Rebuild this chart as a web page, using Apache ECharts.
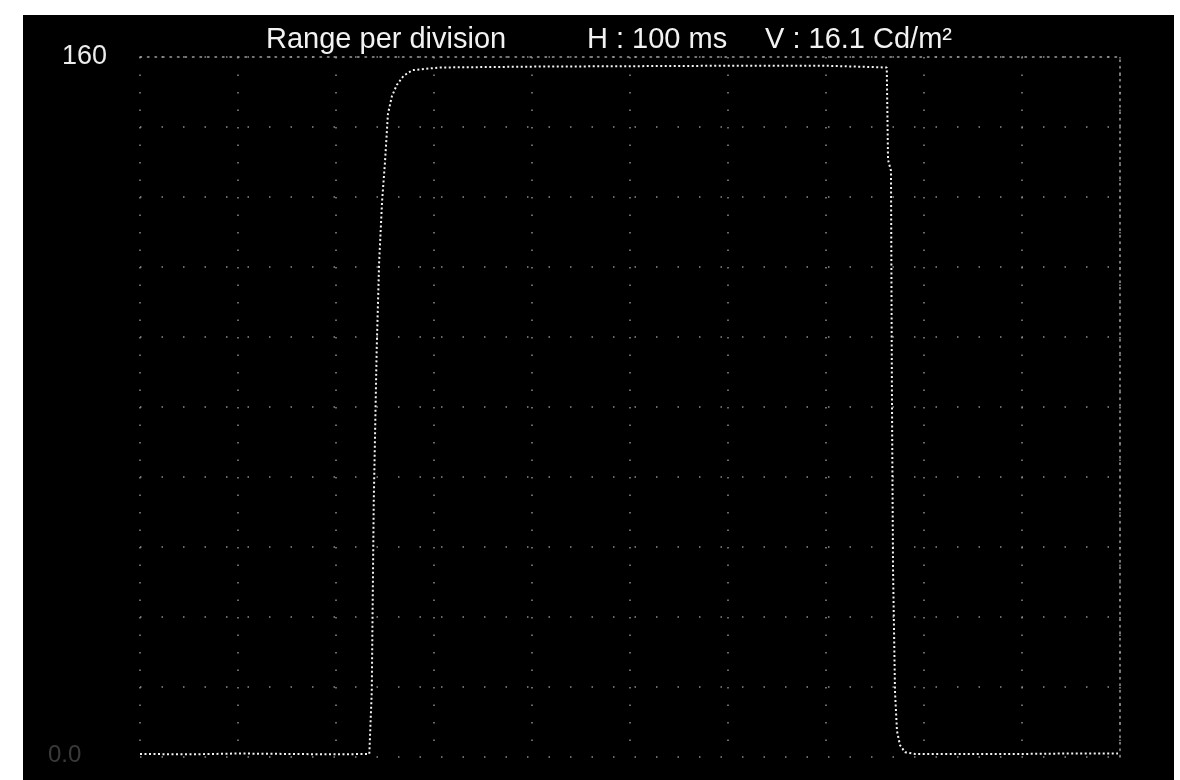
<!DOCTYPE html>
<html>
<head>
<meta charset="utf-8">
<script src="https://cdn.jsdelivr.net/npm/echarts@6/dist/echarts.min.js"></script>
<style>
  html, body { margin: 0; padding: 0; background: #ffffff; }
  #scope { position: absolute; left: 23px; top: 15px; width: 1151px; height: 765px; background: #000000; }
</style>
</head>
<body>
<div id="scope"></div>
<script>
// Luminance step response: time (ms) and luminance (Cd/m²) samples of the trace
const timeMs = [0, 50, 100, 150, 200, 234, 236.5, 238.5, 241.5, 244, 247, 250, 253, 257, 262, 269, 278, 306,
  400, 500, 600, 700, 762, 763.3, 766.3, 767.3, 768.4, 770.4, 772.4, 775.5, 780.6, 791, 850, 900, 950, 998];
const luminance = [0.7, 0.6, 0.8, 0.7, 0.6, 0.7, 15, 58, 93, 113, 127, 136, 147, 151, 153.6, 155.7, 157, 157.6,
  157.8, 157.9, 158, 158, 157.6, 136.5, 134, 82, 43, 15, 6, 2.7, 1.1, 0.7, 0.7, 0.7, 0.8, 0.8];

// Screen scale: 10 divisions each way
const xDivisions = [0, 100, 200, 300, 400, 500, 600, 700, 800, 900, 1000];
const yTopLabel = 160;
const yDivision = 16;

const headerTexts = ['Range per division', 'H : 100 ms', 'V : 16.1 Cd/m²'];
const zeroLabel = '0.0';

const trace = timeMs.map((t, i) => [t, luminance[i]]);

const chart = echarts.init(document.getElementById('scope'), null, { renderer: 'canvas' });
const font = '"Liberation Sans", Arial, sans-serif';
const gridDots = { color: '#8c8c8c', width: 1.5 };
const xMin = xDivisions[0];
const xMax = xDivisions[xDivisions.length - 1];

chart.setOption({
  backgroundColor: '#000000',
  animation: false,
  grid: { left: 117, top: 42, width: 980, height: 700 },
  xAxis: [{
    type: 'value',
    min: xMin,
    max: xMax,
    interval: xDivisions[1] - xDivisions[0],
    axisLine: { show: false },
    axisTick: { show: false },
    axisLabel: { show: false },
    splitLine: { show: true, lineStyle: Object.assign({ type: [1.5, 16] }, gridDots) }
  }, {
    // denser dotted frame along the top edge
    type: 'value',
    position: 'top',
    min: xMin,
    max: xMax,
    axisLine: { show: true, onZero: false, lineStyle: { color: '#a0a0a0', width: 1.5, type: [1.5, 6] } },
    axisTick: { show: false },
    axisLabel: { show: false },
    splitLine: { show: false }
  }],
  yAxis: [{
    type: 'value',
    min: 0,
    max: yTopLabel,
    interval: yDivision,
    axisLine: { show: false },
    axisTick: { show: false },
    axisLabel: {
      show: true,
      margin: 33,
      color: '#ececec',
      fontSize: 27,
      fontFamily: font,
      formatter: v => (v === yTopLabel ? String(yTopLabel) : '')
    },
    splitLine: { show: true, lineStyle: Object.assign({ type: [1.5, 20] }, gridDots) }
  }, {
    // denser dotted frame along the right edge
    type: 'value',
    position: 'right',
    min: 0,
    max: yTopLabel,
    axisLine: { show: true, onZero: false, lineStyle: { color: '#a0a0a0', width: 1.5, type: [1.5, 5] } },
    axisTick: { show: false },
    axisLabel: { show: false },
    splitLine: { show: false }
  }],
  graphic: [
    { type: 'text', left: 243, top: 10, style: { text: headerTexts[0], fill: '#f2f2f2', font: '29px ' + font } },
    { type: 'text', left: 564, top: 10, style: { text: headerTexts[1], fill: '#f2f2f2', font: '29px ' + font } },
    { type: 'text', left: 742, top: 10, style: { text: headerTexts[2], fill: '#f2f2f2', font: '29px ' + font } },
    { type: 'text', left: 25, top: 728, style: { text: zeroLabel, fill: '#3a3a3a', font: '24px ' + font } }
  ],
  series: [{
    type: 'line',
    data: trace,
    showSymbol: false,
    smooth: false,
    lineStyle: { color: '#f4f4f4', width: 2, type: [2, 2.5] }
  }]
});
</script>
</body>
</html>
